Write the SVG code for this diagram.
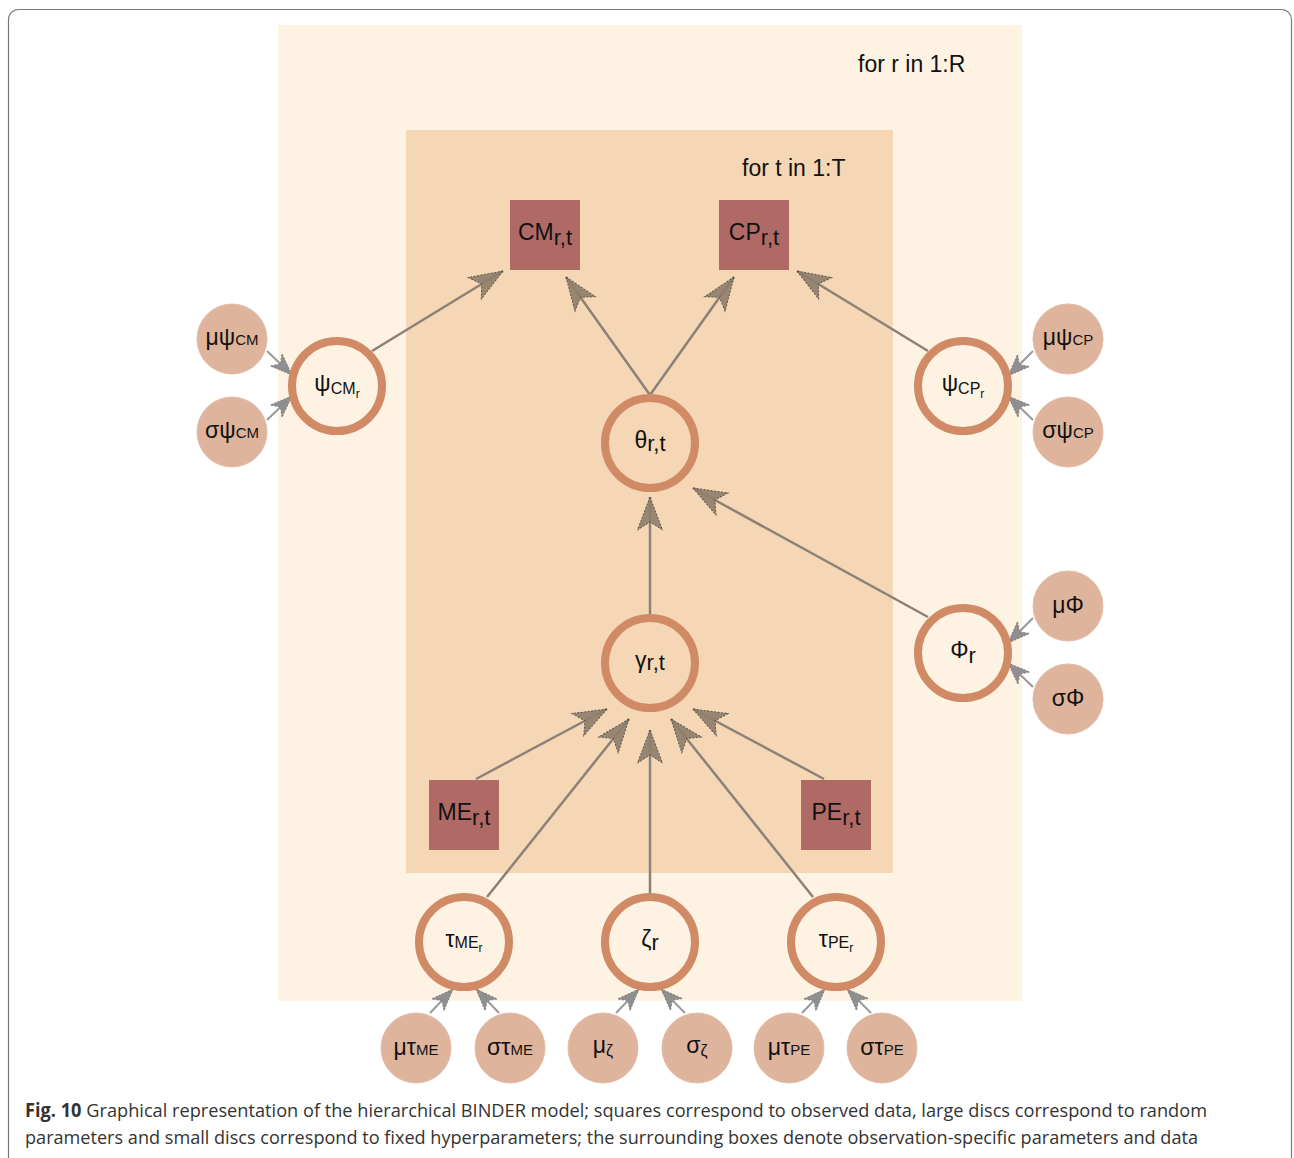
<svg xmlns="http://www.w3.org/2000/svg" width="1294" height="1158" viewBox="0 0 1294 1158">
<style>
.lbl{font-family:"Liberation Sans",Arial,sans-serif;font-size:23px;fill:#111;text-anchor:middle}
.plate{font-family:"Liberation Sans",Arial,sans-serif;font-size:23px;fill:#111}
.big{fill:none;stroke:#d08a65;stroke-width:8}
.small{fill:#dfb49c;stroke:#e2bca6;stroke-width:1}
.sq{fill:#b06a66}
.e{stroke:#8c8176;stroke-width:2.5;fill:none;marker-end:url(#ah)}
.es{stroke:#999;stroke-width:2;fill:none;marker-end:url(#ahs)}
.cap{font-family:"Open Sans","Liberation Sans",sans-serif;font-size:19px;fill:#333}
</style>
<defs>
<marker id="ah" markerUnits="userSpaceOnUse" viewBox="0 0 40 30" markerWidth="40" markerHeight="30" refX="36" refY="15" orient="auto">
<path d="M36,15 L3,2.5 L11,15 L3,27.5 Z" fill="#8e7d6a" fill-opacity="0.9" stroke="#5e564c" stroke-width="1" stroke-dasharray="2,1.5"/>
</marker>
<marker id="ahs" markerUnits="userSpaceOnUse" viewBox="0 0 30 20" markerWidth="30" markerHeight="20" refX="26" refY="10" orient="auto">
<path d="M26,10 L4,1.5 L10,10 L4,18.5 Z" fill="#8f8f8f" stroke="#777" stroke-width="0.8" stroke-dasharray="2,1.5"/>
</marker>
</defs>
<rect x="0" y="0" width="1294" height="1158" fill="#fff"/>
<rect x="8.5" y="9.5" width="1283" height="1180" rx="10" fill="none" stroke="#777" stroke-width="1.2"/>

<g id="plate-r">
<rect x="278" y="25" width="744" height="976" fill="#fef2e2"/>
<text class="plate" x="858" y="72">for r in 1:R</text>
</g>
<g id="plate-t">
<rect x="406" y="130" width="487" height="743" fill="#f5d7b5"/>
<text class="plate" x="742" y="176">for t in 1:T</text>
</g>

<g id="connectors">
<line class="e" x1="372" y1="351" x2="503" y2="271"/>
<line class="e" x1="650" y1="395" x2="566" y2="277"/>
<line class="e" x1="650" y1="395" x2="734" y2="277"/>
<line class="e" x1="928" y1="351" x2="797" y2="271"/>
<line class="e" x1="650" y1="614" x2="650" y2="497"/>
<line class="e" x1="928" y1="617" x2="693" y2="488"/>
<line class="e" x1="476" y1="779" x2="607" y2="709"/>
<line class="e" x1="487" y1="897" x2="629" y2="719"/>
<line class="e" x1="650" y1="894" x2="650" y2="730"/>
<line class="e" x1="813" y1="897" x2="671" y2="719"/>
<line class="e" x1="824" y1="779" x2="693" y2="709"/>
<line class="es" x1="267" y1="351" x2="292" y2="375"/>
<line class="es" x1="267" y1="420" x2="292" y2="396"/>
<line class="es" x1="1033" y1="351" x2="1008" y2="376"/>
<line class="es" x1="1033" y1="420" x2="1008" y2="396"/>
<line class="es" x1="1033" y1="618" x2="1008" y2="643"/>
<line class="es" x1="1033" y1="687" x2="1008" y2="663"/>
<line class="es" x1="430" y1="1013" x2="453" y2="989"/>
<line class="es" x1="499" y1="1013" x2="476" y2="989"/>
<line class="es" x1="616" y1="1013" x2="639" y2="989"/>
<line class="es" x1="685" y1="1013" x2="661" y2="989"/>
<line class="es" x1="802" y1="1013" x2="825" y2="989"/>
<line class="es" x1="871" y1="1013" x2="847" y2="989"/>
</g>

<g id="CM"><rect class="sq" x="510" y="200" width="70" height="70"/>
<text class="lbl" x="545" y="240">CM<tspan font-size="22" dy="5">r,t</tspan></text></g>
<g id="CP"><rect class="sq" x="719" y="200" width="70" height="70"/>
<text class="lbl" x="754" y="240">CP<tspan font-size="22" dy="5">r,t</tspan></text></g>
<g id="ME"><rect class="sq" x="429" y="780" width="70" height="70"/>
<text class="lbl" x="464" y="820">ME<tspan font-size="22" dy="5">r,t</tspan></text></g>
<g id="PE"><rect class="sq" x="801" y="780" width="70" height="70"/>
<text class="lbl" x="836" y="820">PE<tspan font-size="22" dy="5">r,t</tspan></text></g>

<g id="psiCM"><circle class="big" cx="337" cy="386" r="45"/>
<text class="lbl" x="337" y="391">ψ<tspan font-size="16" dy="3">CM</tspan><tspan font-size="12" dy="4">r</tspan></text></g>
<g id="psiCP"><circle class="big" cx="963" cy="386" r="45"/>
<text class="lbl" x="963" y="391">ψ<tspan font-size="16" dy="3">CP</tspan><tspan font-size="12" dy="4">r</tspan></text></g>
<g id="theta"><circle class="big" cx="650" cy="443" r="45"/>
<text class="lbl" x="650" y="448">θ<tspan font-size="22" dy="3">r,t</tspan></text></g>
<g id="gamma"><circle class="big" cx="650" cy="663" r="45"/>
<text class="lbl" x="650" y="668">γ<tspan font-size="22" dy="2">r,t</tspan></text></g>
<g id="phi"><circle class="big" cx="963" cy="653" r="45"/>
<text class="lbl" x="963" y="658">Φ<tspan font-size="22" dy="5">r</tspan></text></g>
<g id="tauME"><circle class="big" cx="464" cy="942" r="45"/>
<text class="lbl" x="464" y="947">τ<tspan font-size="16" dy="1">ME</tspan><tspan font-size="12" dy="4">r</tspan></text></g>
<g id="zeta"><circle class="big" cx="650" cy="942" r="45"/>
<text class="lbl" x="650" y="947">ζ<tspan font-size="22" dy="3">r</tspan></text></g>
<g id="tauPE"><circle class="big" cx="836" cy="942" r="45"/>
<text class="lbl" x="836" y="947">τ<tspan font-size="16" dy="1">PE</tspan><tspan font-size="12" dy="4">r</tspan></text></g>

<g id="mu-psiCM"><circle class="small" cx="232" cy="339" r="35"/>
<text class="lbl" x="232" y="345">μψ<tspan font-size="15">CM</tspan></text></g>
<g id="sigma-psiCM"><circle class="small" cx="232" cy="432" r="35"/>
<text class="lbl" x="232" y="438">σψ<tspan font-size="15">CM</tspan></text></g>
<g id="mu-psiCP"><circle class="small" cx="1068" cy="339" r="35"/>
<text class="lbl" x="1068" y="345">μψ<tspan font-size="15">CP</tspan></text></g>
<g id="sigma-psiCP"><circle class="small" cx="1068" cy="432" r="35"/>
<text class="lbl" x="1068" y="438">σψ<tspan font-size="15">CP</tspan></text></g>
<g id="mu-phi"><circle class="small" cx="1068" cy="606" r="35"/>
<text class="lbl" x="1068" y="613">μΦ</text></g>
<g id="sigma-phi"><circle class="small" cx="1068" cy="699" r="35"/>
<text class="lbl" x="1068" y="706">σΦ</text></g>
<g id="mu-tauME"><circle class="small" cx="416" cy="1048" r="35"/>
<text class="lbl" x="416" y="1055">μτ<tspan font-size="15">ME</tspan></text></g>
<g id="sigma-tauME"><circle class="small" cx="510" cy="1048" r="35"/>
<text class="lbl" x="510" y="1055">στ<tspan font-size="15">ME</tspan></text></g>
<g id="mu-zeta"><circle class="small" cx="603" cy="1048" r="35"/>
<text class="lbl" x="603" y="1053">μ<tspan font-size="16" dy="3">ζ</tspan></text></g>
<g id="sigma-zeta"><circle class="small" cx="697" cy="1048" r="35"/>
<text class="lbl" x="697" y="1053">σ<tspan font-size="16" dy="3">ζ</tspan></text></g>
<g id="mu-tauPE"><circle class="small" cx="789" cy="1048" r="35"/>
<text class="lbl" x="789" y="1055">μτ<tspan font-size="15">PE</tspan></text></g>
<g id="sigma-tauPE"><circle class="small" cx="882" cy="1048" r="35"/>
<text class="lbl" x="882" y="1055">στ<tspan font-size="15">PE</tspan></text></g>

<g id="caption">
<text class="cap" x="25" y="1117" textLength="1182" lengthAdjust="spacingAndGlyphs"><tspan font-weight="bold">Fig. 10</tspan> Graphical representation of the hierarchical BINDER model; squares correspond to observed data, large discs correspond to random</text>
<text class="cap" x="25" y="1144" textLength="1173" lengthAdjust="spacingAndGlyphs">parameters and small discs correspond to fixed hyperparameters; the surrounding boxes denote observation-specific parameters and data</text>
</g>
</svg>
